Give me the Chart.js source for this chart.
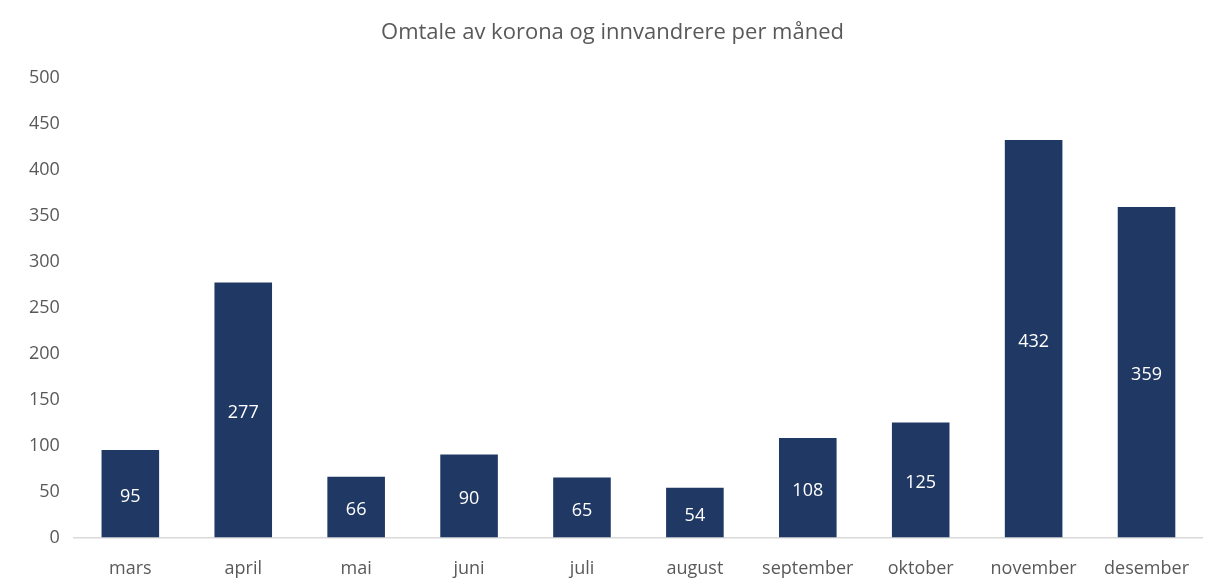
<!DOCTYPE html>
<html>
<head>
<meta charset="utf-8">
<script src="https://cdn.jsdelivr.net/npm/chart.js@4"></script>
<style>
  html, body { margin: 0; padding: 0; background: #fff; }
  #wrap { width: 1210px; height: 579px; }
</style>
</head>
<body>
<div id="wrap"><canvas id="barChart" width="1210" height="579"></canvas></div>
<script>
const months = ["mars", "april", "mai", "juni", "juli", "august", "september", "oktober", "november", "desember"];
const mentions = [95, 277, 66, 90, 65, 54, 108, 125, 432, 359];
const yTicks = { min: 0, max: 500, step: 50 };

const FONT = "'Open Sans', 'Noto Sans', sans-serif";

// value labels in the middle of each bar
const barLabels = {
  id: "barLabels",
  afterDatasetsDraw(chart) {
    const ctx = chart.ctx;
    const meta = chart.getDatasetMeta(0);
    ctx.save();
    ctx.fillStyle = "#ffffff";
    ctx.font = "18px " + FONT;
    ctx.textAlign = "center";
    ctx.textBaseline = "middle";
    meta.data.forEach((bar, i) => {
      const mid = (bar.y + bar.base) / 2;
      ctx.fillText(String(mentions[i]), bar.x, mid + 3);
    });
    ctx.restore();
  }
};

const ctx = document.getElementById("barChart").getContext("2d");
new Chart(ctx, {
  type: "bar",
  data: {
    labels: months,
    datasets: [{
      data: mentions,
      backgroundColor: "#203864",
      categoryPercentage: 1,
      barPercentage: 0.51
    }]
  },
  options: {
    responsive: false,
    animation: false,
    layout: { padding: { left: 15, right: 0, top: 20, bottom: -22 } },
    plugins: {
      legend: { display: false },
      tooltip: { enabled: false },
      title: {
        display: true,
        text: "Omtale av korona og innvandrere per måned",
        color: "#595959",
        font: { family: FONT, size: 22, weight: "normal" },
        padding: { top: 0, bottom: 31 }
      }
    },
    scales: {
      x: {
        grid: { display: false, drawTicks: false },
        border: { display: true, color: "#d9d9d9", width: 1.5 },
        ticks: {
          color: "#595959",
          font: { family: FONT, size: 18 },
          maxRotation: 0,
          autoSkip: false,
          padding: 21
        }
      },
      y: {
        min: yTicks.min,
        max: yTicks.max,
        grid: { display: false, drawTicks: false },
        border: { display: false },
        ticks: {
          stepSize: yTicks.step,
          color: "#595959",
          font: { family: FONT, size: 18 },
          padding: 14
        }
      }
    }
  },
  plugins: [barLabels]
});
</script>
</body>
</html>
